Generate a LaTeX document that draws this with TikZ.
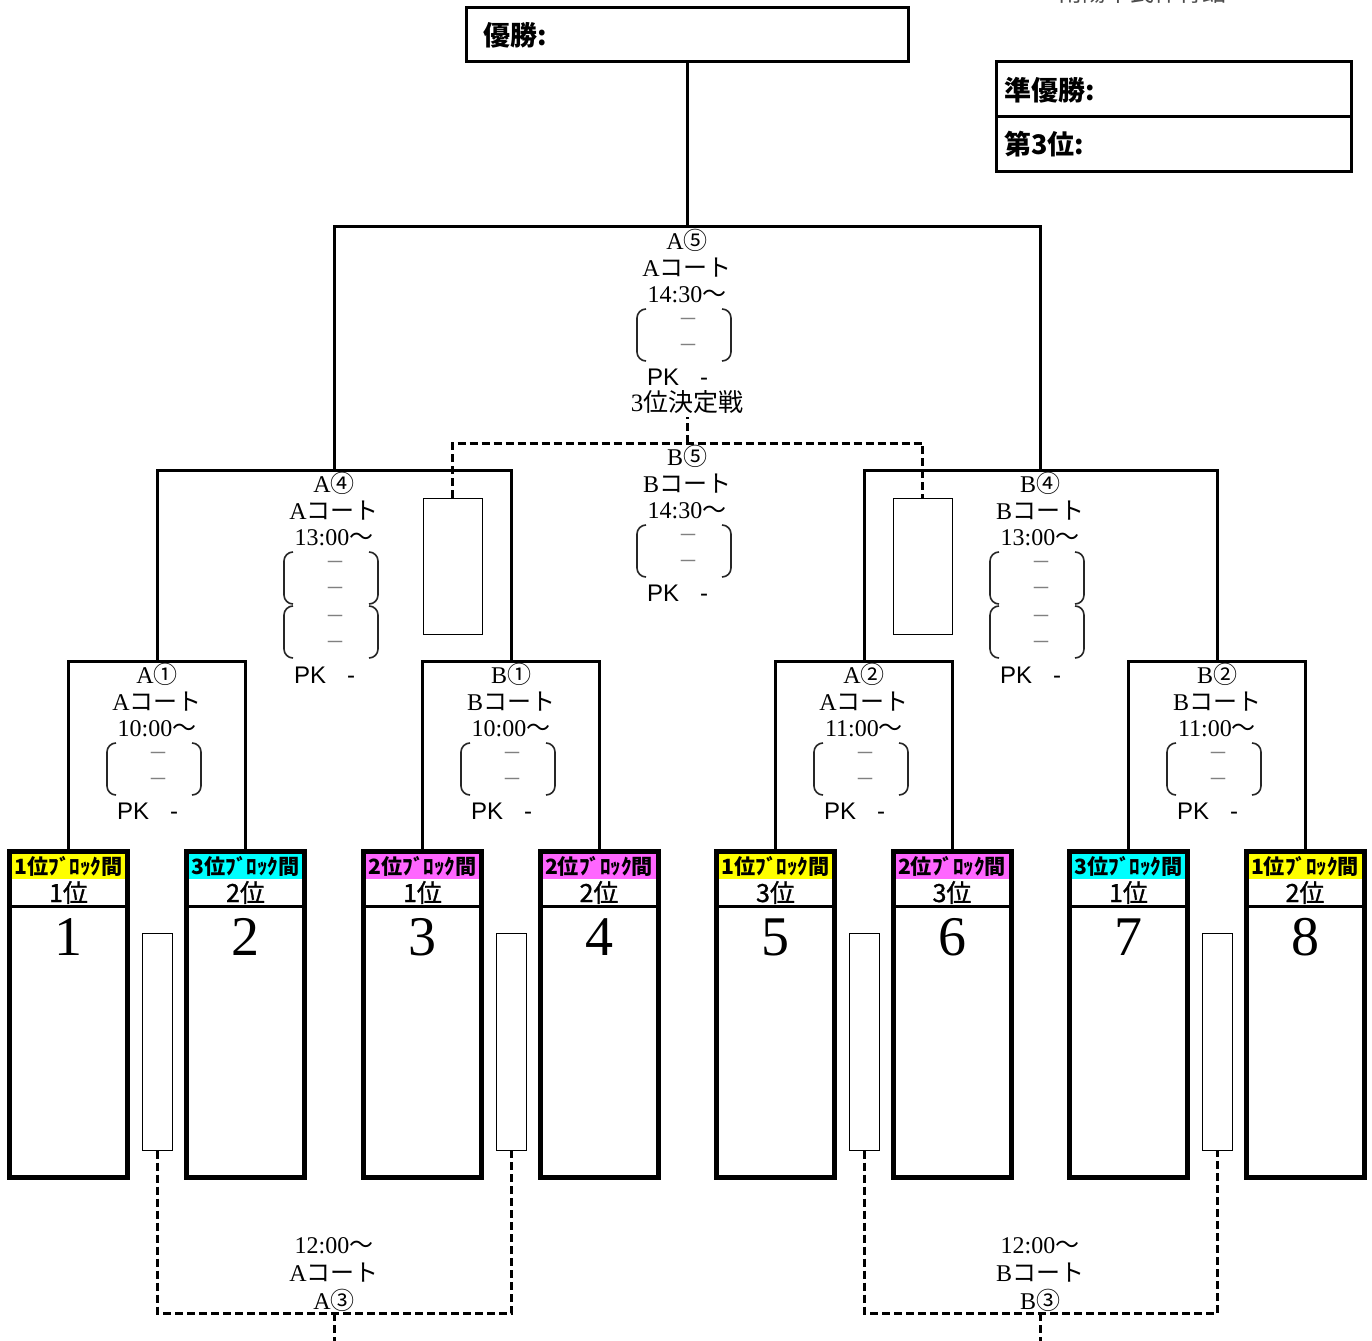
\documentclass[tikz,border=0pt]{standalone}
\usepackage{fontspec}
\usepackage{graphicx}
\setmainfont{Liberation Serif}
\newfontfamily\jp{Noto Sans CJK JP}
\newfontfamily\jpm[FakeBold=1.2]{Noto Sans CJK JP}
\newfontfamily\sansf{Liberation Sans}
\definecolor{hy}{HTML}{FFFF00}
\definecolor{hc}{HTML}{00FFFF}
\definecolor{hm}{HTML}{FF66FF}
\tikzset{
  every node/.style={inner sep=0pt, outer sep=0pt},
  bk/.style={line width=3pt},
  dsh/.style={line width=3pt, dash pattern=on 8pt off 4pt},
  leaf/.style={draw, line width=5pt, minimum width=118pt, minimum height=326pt},
  slot/.style={draw, line width=1pt, minimum width=30pt, minimum height=217pt},
  slotb/.style={draw, line width=1pt, minimum width=59pt, minimum height=136pt},
  lbl/.style={font=\fontsize{24}{26}\selectfont},
  pk/.style={font=\sansf\fontsize{24}{26}\selectfont, anchor=west},
  dashmark/.style={font=\jp\fontsize{20}{22}\selectfont, text=gray},
  hdr/.style={font=\jp\bfseries\fontsize{21}{22}\selectfont},
  rank/.style={font=\jpm\fontsize{25}{26}\selectfont},
  num/.style={font=\fontsize{56}{60}\selectfont},
  ttl/.style={font=\jp\bfseries\fontsize{27}{30}\selectfont, anchor=west},
  prn/.style={line width=1.6pt, draw=black!85},
}
\newcommand\prnpair[3]{%
  \draw[prn] (#2-41,#3) to[out=180,in=90] (#2-50,#3+9) -- (#2-50,#3+43) to[out=-90,in=180] (#2-41,#3+52);
  \draw[prn] (#2+35,#3) to[out=0,in=90] (#2+44,#3+9) -- (#2+44,#3+43) to[out=-90,in=0] (#2+35,#3+52);
  \node[dashmark] (#1u) at (#2+1,#3+13) {－};
  \node[dashmark] (#1l) at (#2+1,#3+39) {－};
}
\newcommand\match[7]{%
  \node[lbl] (#1t) at (#2,#3+13.5) {#4};
  \node[lbl] (#1c) at (#2,#3+40.5) {#5};
  \node[lbl] (#1h) at (#2,#3+68) {#6};
  \prnpair{#1p}{#2}{#3+82}
  \ifnum#7=2
    \prnpair{#1q}{#2}{#3+136}
    \node[pk] (#1k) at (#2-40,#3+205) {PK\hspace{21pt}-};
  \else
    \node[pk] (#1k) at (#2-40,#3+150) {PK\hspace{21pt}-};
  \fi
}
\begin{document}
\begin{tikzpicture}[x=1pt,y=-1pt]
\useasboundingbox (0,0) rectangle (1372,1340);
\clip (0,0) rectangle (1372,1340);
\fill[white] (0,0) rectangle (1372,1340);

% venue (cut off at top, as in the reference)
\node[font=\jp\fontsize{24}{24}\selectfont, text=black!70] (venue) at (1142,-8) {南陽市民体育館};

% champion box
\node[draw, line width=3pt, minimum width=442pt, minimum height=54pt] (champ) at (687,35) {};
\node[ttl] (champt) at (483,35) {優勝:};

% runner-up / third
\node[draw, line width=3pt, minimum width=355pt, minimum height=55pt] (second) at (1173.5,89.5) {};
\node[draw, line width=3pt, minimum width=355pt, minimum height=55pt] (third) at (1173.5,144.5) {};
\node[ttl] (secondt) at (1004,90) {準優勝:};
\node[ttl] (thirdt) at (1004,144) {第3位:};

% leaves
\foreach \i/\x/\cl/\bl/\rk in {1/68.5/hy/1/1, 2/245.5/hc/3/2, 3/422.5/hm/2/1, 4/599/hm/2/2, 5/775.5/hy/1/3, 6/952/hm/2/3, 7/1128.5/hc/3/1, 8/1305/hy/1/2} {
  \fill[\cl] (\x-56.5,854) rectangle (\x+56.5,879);
  \node[hdr] (H\i) at (\x,866.5) {\resizebox{108pt}{\height}{\bl 位ﾌﾞﾛｯｸ間}};
  \node[rank] (R\i) at (\x,892.5) {\rk 位};
  \draw[line width=3pt] (\x-57,906.5) -- (\x+57,906.5);
  \node[num] (N\i) at (\x,937) {\i};
  \node[leaf] (L\i) at (\x,1014.5) {};
}

% bracket points
\coordinate (A1) at (157,661);
\coordinate (B1) at (511,661);
\coordinate (A2) at (864,661);
\coordinate (B2) at (1217,661);
\coordinate (A4) at (334,470);
\coordinate (B4) at (1040,470);
\coordinate (A5) at (687,227);

\draw[bk] (L1.north) |- (A1) -| (L2.north);
\draw[bk] (L3.north) |- (B1) -| (L4.north);
\draw[bk] (L5.north) |- (A2) -| (L6.north);
\draw[bk] (L7.north) |- (B2) -| (L8.north);
\draw[bk] (A1) |- (A4) -| (B1);
\draw[bk] (A2) |- (B4) -| (B2);
\draw[bk] (A4) |- (A5) -| (B4);
\draw[bk] (A5) -- (champ.south);

% loser slots, first round
\node[slot] (S1) at (157.5,1042) {};
\node[slot] (S2) at (511.5,1042) {};
\node[slot] (S3) at (864.5,1042) {};
\node[slot] (S4) at (1217.5,1042) {};
\coordinate (A3) at (334,1313);
\coordinate (B3) at (1040,1313);
\coordinate (A3e) at (334,1350);
\coordinate (B3e) at (1040,1350);
\draw[dsh] (S1.south) |- (A3) -| (S2.south);
\draw[dsh] (S3.south) |- (B3) -| (S4.south);
\draw[dsh] (A3) -- (A3e);
\draw[dsh] (B3) -- (B3e);

% loser slots, semifinal
\node[slotb] (T1) at (452.5,566) {};
\node[slotb] (T2) at (922.5,566) {};
\coordinate (B5) at (687,443);
\coordinate (B5e) at (687,417);
\draw[dsh] (T1.north) |- (B5) -| (T2.north);
\draw[dsh] (B5) -- (B5e);

% match labels
\match{mAv}{687}{227}{A{\jp ⑤}}{A{\jp コート}}{14:30{\jp ～}}{1}
\node[font=\fontsize{25}{27}\selectfont] (thirdlbl) at (687,402) {3{\jp 位決定戦}};
\match{mBv}{687}{443}{B{\jp ⑤}}{B{\jp コート}}{14:30{\jp ～}}{1}
\match{mAiv}{334}{470}{A{\jp ④}}{A{\jp コート}}{13:00{\jp ～}}{2}
\match{mBiv}{1040}{470}{B{\jp ④}}{B{\jp コート}}{13:00{\jp ～}}{2}
\match{mAi}{157}{661}{A{\jp ①}}{A{\jp コート}}{10:00{\jp ～}}{1}
\match{mBi}{511}{661}{B{\jp ①}}{B{\jp コート}}{10:00{\jp ～}}{1}
\match{mAii}{864}{661}{A{\jp ②}}{A{\jp コート}}{11:00{\jp ～}}{1}
\match{mBii}{1217}{661}{B{\jp ②}}{B{\jp コート}}{11:00{\jp ～}}{1}

% bottom labels
\node[lbl] (A3a) at (334,1246) {12:00{\jp ～}};
\node[lbl] (A3b) at (334,1273) {A{\jp コート}};
\node[lbl] (A3c) at (334,1300) {A{\jp ③}};
\node[lbl] (B3a) at (1040,1246) {12:00{\jp ～}};
\node[lbl] (B3b) at (1040,1273) {B{\jp コート}};
\node[lbl] (B3c) at (1040,1300) {B{\jp ③}};
\end{tikzpicture}
\end{document}
